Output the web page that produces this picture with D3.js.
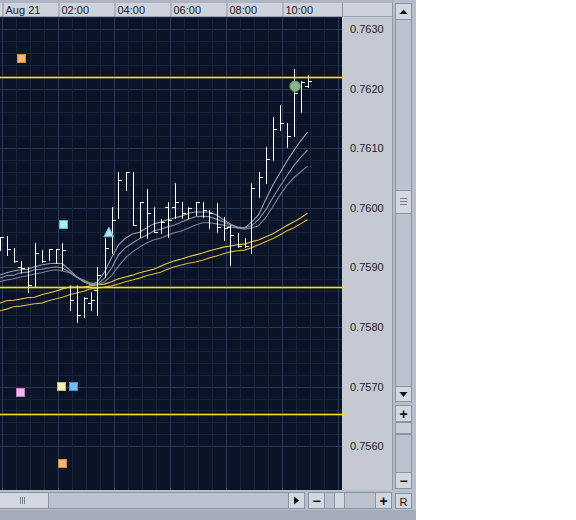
<!DOCTYPE html>
<html><head><meta charset="utf-8">
<script src="https://cdn.jsdelivr.net/npm/d3@7"></script>
<style>body{margin:0;background:#fff} svg{display:block;font-family:Arial,"Liberation Sans",sans-serif}</style>
</head><body><svg id="c" width="576" height="520"></svg>
<script>
// ---------- DATA ----------
const barTimes = ["08-20 23:45","08-21 00:00","08-21 00:15","08-21 00:30","08-21 00:45","08-21 01:00","08-21 01:15","08-21 01:30","08-21 01:45",
"08-21 02:00","08-21 02:15","08-21 02:30","08-21 02:45","08-21 03:00","08-21 03:15","08-21 03:30","08-21 03:45",
"08-21 04:00","08-21 04:15","08-21 04:30","08-21 04:45","08-21 05:00","08-21 05:15","08-21 05:30","08-21 05:45",
"08-21 06:00","08-21 06:15","08-21 06:30","08-21 06:45","08-21 07:00","08-21 07:15","08-21 07:30","08-21 07:45",
"08-21 08:00","08-21 08:15","08-21 08:30","08-21 08:45","08-21 09:00","08-21 09:15","08-21 09:30","08-21 09:45",
"08-21 10:00","08-21 10:15","08-21 10:30","08-21 10:45"];
const highs  = [0.75951,0.75953,0.75933,0.75911,0.75901,0.75941,0.75929,0.75931,0.75931,0.75941,0.75870,0.75870,0.75850,0.75859,0.75901,0.75949,0.76001,0.76060,0.76060,0.76060,0.76010,0.76032,0.76001,0.75981,0.76010,0.76042,0.76010,0.76001,0.76010,0.76010,0.75996,0.76008,0.75985,0.75971,0.75958,0.75949,0.76042,0.76060,0.76102,0.76152,0.76172,0.76142,0.76233,0.76213,0.76223];
const lows   = [0.75929,0.75921,0.75909,0.75891,0.75859,0.75867,0.75909,0.75912,0.75907,0.75896,0.75828,0.75808,0.75817,0.75828,0.75820,0.75884,0.75924,0.75983,0.76030,0.75971,0.75951,0.75949,0.75959,0.75958,0.75951,0.75983,0.75983,0.75983,0.75988,0.75985,0.75966,0.75959,0.75946,0.75904,0.75934,0.75934,0.75924,0.76018,0.76042,0.76080,0.76131,0.76102,0.76120,0.76161,0.76203];
const closes = [0.75951,0.75931,0.75911,0.75899,0.75870,0.75924,0.75911,0.75931,0.75931,0.75929,0.75845,0.75820,0.75849,0.75845,0.75887,0.75933,0.75980,0.76047,0.76060,0.75971,0.76010,0.75991,0.75959,0.75976,0.75980,0.76010,0.75991,0.76000,0.76010,0.75996,0.75991,0.75968,0.75966,0.75954,0.75936,0.75936,0.76033,0.76052,0.76082,0.76132,0.76142,0.76120,0.76193,0.76211,0.76213];
const opens  = [null,null,null,0.75901,null,null,null,null,null,null,0.75867,null,null,0.75840,0.75862,null,null,null,null,null,null,null,null,null,0.76001,0.76001,null,null,null,null,null,null,null,0.75968,null,null,null,null,null,null,null,null,null,null,0.76204];

const maGray1 = [0.75887,0.75891,0.75894,0.75896,0.75897,0.75901,0.75904,0.75906,0.75907,0.75906,0.75896,0.75884,0.75876,0.75871,0.75876,0.75892,0.75916,0.75938,0.75949,0.75956,0.75959,0.75966,0.75973,0.75976,0.75980,0.75983,0.75986,0.75991,0.75993,0.75993,0.75993,0.75988,0.75980,0.75973,0.75966,0.75966,0.75976,0.75988,0.76013,0.76037,0.76057,0.76077,0.76095,0.76112,0.76127];
const maGray2 = [0.75882,0.75886,0.75887,0.75891,0.75892,0.75896,0.75897,0.75899,0.75901,0.75899,0.75892,0.75884,0.75877,0.75872,0.75872,0.75882,0.75899,0.75921,0.75933,0.75941,0.75948,0.75954,0.75961,0.75964,0.75968,0.75971,0.75976,0.75981,0.75985,0.75986,0.75985,0.75981,0.75976,0.75971,0.75968,0.75966,0.75970,0.75980,0.75996,0.76016,0.76035,0.76053,0.76070,0.76084,0.76097];
const maGray3 = [0.75876,0.75879,0.75881,0.75884,0.75886,0.75889,0.75891,0.75894,0.75896,0.75894,0.75891,0.75884,0.75879,0.75874,0.75871,0.75876,0.75886,0.75902,0.75916,0.75926,0.75934,0.75941,0.75946,0.75949,0.75954,0.75958,0.75961,0.75966,0.75971,0.75975,0.75975,0.75973,0.75971,0.75968,0.75966,0.75964,0.75966,0.75970,0.75983,0.76001,0.76020,0.76037,0.76050,0.76060,0.76070];
const maYellow1 = [0.75840,0.75844,0.75845,0.75847,0.75849,0.75850,0.75854,0.75857,0.75860,0.75864,0.75867,0.75867,0.75867,0.75869,0.75871,0.75872,0.75876,0.75881,0.75884,0.75887,0.75891,0.75894,0.75897,0.75902,0.75907,0.75911,0.75914,0.75918,0.75921,0.75924,0.75928,0.75931,0.75934,0.75936,0.75938,0.75939,0.75943,0.75946,0.75951,0.75956,0.75963,0.75970,0.75976,0.75983,0.75991];
const maYellow2 = [0.75827,0.75830,0.75834,0.75835,0.75837,0.75839,0.75840,0.75844,0.75847,0.75850,0.75854,0.75857,0.75860,0.75864,0.75865,0.75867,0.75869,0.75872,0.75876,0.75879,0.75882,0.75886,0.75889,0.75892,0.75897,0.75901,0.75904,0.75907,0.75909,0.75912,0.75916,0.75919,0.75923,0.75926,0.75928,0.75929,0.75933,0.75938,0.75943,0.75948,0.75954,0.75961,0.75966,0.75973,0.75980];

const levelPrices = [0.76219, 0.75867, 0.75654];

const markerTimes  = ["08-21 00:41","08-21 02:11","08-21 03:49","08-21 10:28","08-21 00:39","08-21 02:06","08-21 02:32","08-21 02:09"];
const markerPrices = [0.76251,0.75973,0.75959,0.76204,0.75691,0.75701,0.75701,0.75572];
const markerKinds  = ["orange","cyan","triangle","circle","pink","yellow","blue","orange"];

const priceTicks = [0.7560,0.7570,0.7580,0.7590,0.7600,0.7610,0.7620,0.7630];
const timeTickLabels = ["Aug 21","02:00","04:00","06:00","08:00","10:00"];

// ---------- SETUP ----------
const parse = d3.timeParse("%m-%d %H:%M");
const svg = d3.select("#c");
const PL = 0, PR = 342, PT = 17, PB = 490;
const x = d3.scaleTime().domain([parse("08-21 00:00"), parse("08-21 12:00")]).range([2, 338]);
const y = d3.scaleLinear().domain([0.7560, 0.7630]).range([446.2, 29]);
const barOff = 4.5;
const times = barTimes.map(parse);
const cx = i => Math.round(x(times[i]) + barOff) + 0.5;

// chrome backgrounds
svg.append("rect").attr("x",0).attr("y",0).attr("width",416).attr("height",520).attr("fill","#b7bfcc");
svg.append("rect").attr("x",0).attr("y",510).attr("width",416).attr("height",10).attr("fill","#a4acb9");
svg.append("rect").attr("x",0).attr("y",0).attr("width",394).attr("height",3).attr("fill","#aeb5c2");
svg.append("rect").attr("x",0).attr("y",3).attr("width",392).attr("height",14).attr("fill","#cdd2dc");
svg.append("rect").attr("x",342).attr("y",17).attr("width",50).attr("height",PB-17).attr("fill","#c4c9d4");
svg.append("line").attr("x1",392.5).attr("x2",392.5).attr("y1",3).attr("y2",PB).attr("stroke","#8e96a4");

// plot
svg.append("defs").append("clipPath").attr("id","clip").append("rect")
  .attr("x",PL).attr("y",PT).attr("width",PR-PL).attr("height",PB-PT);
const plot = svg.append("g").attr("clip-path","url(#clip)");
plot.append("rect").attr("x",PL).attr("y",PT).attr("width",PR-PL).attr("height",PB-PT).attr("fill","#0b1326");

// grid
const minorX = d3.timeMinute.every(30).range(parse("08-21 00:00"), parse("08-21 12:01"));
const minorY = d3.range(3780, 3821).map(v => v / 5000);
const isMajorY = d => Math.abs(d*1000 - Math.round(d*1000)) < 1e-6;
plot.append("g").selectAll("line").data(minorY).join("line")
  .attr("x1",PL).attr("x2",PR).attr("y1",d=>Math.round(y(d))+0.5).attr("y2",d=>Math.round(y(d))+0.5)
  .attr("stroke", d => isMajorY(d) ? "#2a3858" : "#18233b");
plot.append("g").selectAll("line").data(minorX).join("line")
  .attr("y1",PT).attr("y2",PB).attr("x1",d=>Math.round(x(d))+0.5).attr("x2",d=>Math.round(x(d))+0.5)
  .attr("stroke", d => d.getMinutes()===0 && d.getHours()%2===0 ? "#2a3858" : "#18233b");

// moving averages
const line = d3.line().x((d,i)=>x(times[i])+barOff).y(d=>y(d));
const maSeries = [
  {v:maYellow2, c:"#d9b53a"},
  {v:maYellow1, c:"#eccb4a"},
  {v:maGray3, c:"#7a8296"},
  {v:maGray2, c:"#8b92a5"},
  {v:maGray1, c:"#9aa0b2"}
];
plot.append("g").selectAll("path").data(maSeries).join("path")
  .attr("d",d=>line(d.v)).attr("fill","none").attr("stroke",d=>d.c).attr("stroke-width",1.1);

// level lines
const lvG = svg.append("g");
lvG.selectAll("rect.glow").data(levelPrices).join("rect").attr("class","glow")
  .attr("x",0).attr("width",345).attr("y",d=>Math.round(y(d))-1).attr("height",3)
  .attr("fill","#e8d020").attr("opacity",0.35);
lvG.selectAll("rect.core").data(levelPrices).join("rect").attr("class","core")
  .attr("x",0).attr("width",345).attr("y",d=>Math.round(y(d))).attr("height",1)
  .attr("fill","#f5e21c");

// bars
const bars = plot.append("g").style("stroke","#ffffff").style("stroke-width","1px");
times.forEach((t,i)=>{
  const X = cx(i);
  bars.append("line").attr("x1",X).attr("x2",X).attr("y1",Math.round(y(highs[i]))).attr("y2",Math.round(y(lows[i]))+1);
  const yc = Math.round(y(closes[i]))+0.5;
  bars.append("line").attr("x1",X).attr("x2",X+3.5).attr("y1",yc).attr("y2",yc);
  if (opens[i]!==null){
    const yo = Math.round(y(opens[i]))+0.5;
    bars.append("line").attr("x1",X-3.5).attr("x2",X).attr("y1",yo).attr("y2",yo);
  }
});

// markers
const sqStyle = {
  orange:["#f5b86a","#c98d45"], cyan:["#a6f0f6","#5fb3c2"], pink:["#f6b4f4","#b982b8"],
  yellow:["#f8f0b0","#c2b878"], blue:["#6cc0f2","#4a8fbf"]
};
const mk = plot.append("g");
markerTimes.forEach((s,i)=>{
  const mx = x(parse(s)), my = y(markerPrices[i]), k = markerKinds[i];
  if (k==="triangle"){
    mk.append("path").attr("d",`M${mx},${my-5}L${mx+5},${my+4.5}L${mx-5},${my+4.5}Z`)
      .attr("fill","#a8e6f6").attr("stroke","#6fb4c8").attr("stroke-width",1);
  } else if (k==="circle"){
    mk.append("circle").attr("cx",mx).attr("cy",my).attr("r",5.2).attr("fill","#86b486").attr("stroke","#6a9a6a");
  } else {
    mk.append("rect").attr("x",Math.round(mx)-3.5).attr("y",Math.round(my)-3.5).attr("width",8).attr("height",8)
      .attr("fill",sqStyle[k][0]).attr("stroke",sqStyle[k][1]).attr("stroke-width",1);
  }
});

// top time axis (header)
const timeTicks = d3.timeHour.every(2).range(parse("08-21 00:00"), parse("08-21 12:00"));
const axTop = d3.axisTop(x).tickValues(timeTicks).tickSizeInner(14).tickSizeOuter(0)
  .tickFormat((d,i)=>timeTickLabels[i]);
const gTop = svg.append("g").attr("transform",`translate(0,${PT})`).call(axTop);
gTop.select(".domain").remove();
gTop.selectAll(".tick line").attr("stroke","#8a92a0").attr("transform","translate(0.5,0)");
gTop.append("line").attr("x1",342.5).attr("x2",342.5).attr("y1",0).attr("y2",-14).attr("stroke","#8a92a0");
gTop.selectAll(".tick text").attr("text-anchor","start").attr("x",3).attr("y",-7).attr("dy","0.35em")
  .attr("fill","#1a1a1a").style("font-size","11px").style("font-family","Arial, 'Liberation Sans', sans-serif");
svg.append("line").attr("x1",0).attr("x2",392).attr("y1",16.5).attr("y2",16.5).attr("stroke","#9aa1ae");

// right price axis
const axR = d3.axisRight(y).tickValues(priceTicks).tickFormat(d3.format(".4f")).tickSize(0).tickPadding(0);
const gR = svg.append("g").attr("transform","translate(350,0)").call(axR);
gR.select(".domain").remove();
gR.selectAll(".tick line").remove();
gR.selectAll(".tick text").attr("fill","#222").style("font-size","11px")
  .style("font-family","Arial, 'Liberation Sans', sans-serif");

// ---- scrollbars / buttons ----
function btn(x0,y0,w,h,fill){
  svg.append("rect").attr("x",x0+0.5).attr("y",y0+0.5).attr("width",w-1).attr("height",h-1)
    .attr("fill",fill||"#d2d7e0").attr("stroke","#8b93a1");
}
function txt(s,xx,yy,size,weight){
  svg.append("text").attr("x",xx).attr("y",yy).attr("text-anchor","middle").attr("dominant-baseline","central")
    .style("font-size",size+"px").style("font-weight",weight||"normal").attr("fill","#111").text(s);
}
svg.append("rect").attr("x",395).attr("y",3).attr("width",17).attr("height",400).attr("fill","#bcc3cf");
svg.append("line").attr("x1",395.5).attr("x2",395.5).attr("y1",3).attr("y2",403).attr("stroke","#8b93a1");
svg.append("line").attr("x1",411.5).attr("x2",411.5).attr("y1",3).attr("y2",403).attr("stroke","#8b93a1");
btn(395,3,17,17);
svg.append("path").attr("d","M399.5,14L407.5,14L403.5,9.5Z").attr("fill","#111");
btn(395,190,17,24);
[198.5,201.5,204.5].forEach(v=>svg.append("line").attr("x1",400).attr("x2",407).attr("y1",v).attr("y2",v).attr("stroke","#7a8290"));
btn(395,386,17,16);
svg.append("path").attr("d","M399.5,392L407.5,392L403.5,397Z").attr("fill","#111");
btn(395,405,17,17);
txt("+",403.5,413.5,14,"bold");
btn(395,422,17,12,"#c9ced8");
svg.append("rect").attr("x",395.5).attr("y",434.5).attr("width",16).attr("height",38).attr("fill","#bcc3cf").attr("stroke","#8b93a1");
btn(395,472,17,17);
txt("−",403.5,480.5,14,"bold");

svg.append("rect").attr("x",0).attr("y",492).attr("width",305).attr("height",17).attr("fill","#bcc3cf");
svg.append("line").attr("x1",0).attr("x2",305).attr("y1",492.5).attr("y2",492.5).attr("stroke","#8b93a1");
svg.append("line").attr("x1",0).attr("x2",305).attr("y1",508.5).attr("y2",508.5).attr("stroke","#8b93a1");
btn(-1,492,50,17);
[20.5,22.5,24.5].forEach(v=>svg.append("line").attr("x1",v).attr("x2",v).attr("y1",497).attr("y2",504).attr("stroke","#7a8290"));
btn(288,492,17,17);
svg.append("path").attr("d","M294,496.5L294,504.5L299,500.5Z").attr("fill","#111");
btn(308,492,17,17);
txt("−",316.5,500.5,14,"bold");
svg.append("rect").attr("x",324.5).attr("y",492.5).attr("width",51).attr("height",16).attr("fill","#bcc3cf").attr("stroke","#8b93a1");
btn(334,492,11,17,"#d2d7e0");
btn(375,492,17,17);
txt("+",383.5,500.5,14,"bold");
btn(395,493,17,16);
txt("R",403.5,501.5,11);
</script></body></html>
